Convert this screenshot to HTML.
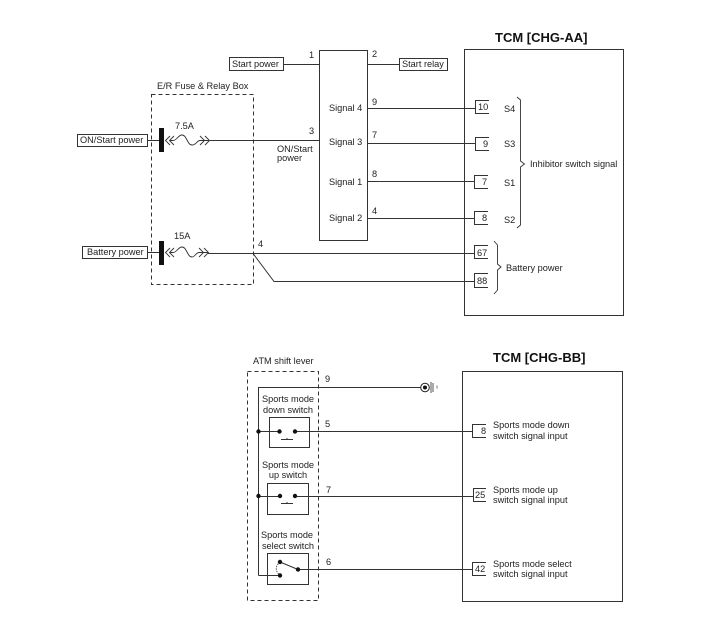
<!DOCTYPE html>
<html>
<head>
<meta charset="utf-8">
<style>
html,body{margin:0;padding:0;background:#fff;width:701px;height:629px;overflow:hidden}
svg{display:block}
text{font-family:"Liberation Sans",Arial,sans-serif;font-size:9.2px;fill:#222}
text.t{font-size:13px;font-weight:bold;fill:#111}
.l{fill:none;stroke:#333;stroke-width:1}
.d{fill:none;stroke:#333;stroke-width:1;stroke-dasharray:4 3}
.f{fill:none;stroke:#333;stroke-width:.9}
</style>
</head>
<body>
<svg width="701" height="629" viewBox="0 0 701 629" xmlns="http://www.w3.org/2000/svg">
<rect width="701" height="629" fill="#fff"/>

<!-- Top: boxes -->
<rect class="l" x="229.5" y="57.5" width="54" height="13"/>
<rect class="l" x="399.5" y="58.5" width="48" height="12"/>
<rect class="l" x="319.5" y="50.5" width="48" height="190"/>
<rect class="l" x="464.5" y="49.5" width="159" height="266"/>
<rect class="d" x="151.5" y="94.5" width="102" height="190"/>
<rect class="l" x="77.5" y="134.5" width="70" height="12"/>
<rect class="l" x="82.5" y="246.5" width="65" height="12"/>

<!-- Top: wires -->
<path class="l" d="M283 64.5H319M368 64.5H399"/>
<path class="l" d="M368 108.5H475M368 143.5H475M368 181.5H474M368 218.5H474"/>
<path class="l" d="M147 140.5H160M210 140.5H319"/>
<path class="l" d="M147 252.5H160M208 253.5H474M253 253.5L274 281.5H474"/>

<!-- Bus bars -->
<rect x="159" y="128" width="5" height="24" fill="#111"/>
<rect x="159" y="241" width="5" height="24" fill="#111"/>

<!-- Fuses -->
<g class="f">
<path d="M170 136L165.500 140.500L170 145M174 136L169.500 140.500L174 145M170 140.500H173C177 140.500 178 135 182 135C187 135 187 145 192 145C196 145 197 140.500 200 140.500H209M200 136L204.500 140.500L200 145M205 136L209.500 140.500L205 145"/>
<path d="M170 248L165.500 252.500L170 257M174 248L169.500 252.500L174 257M170 252.500H173C177 252.500 178 247 182 247C187 247 187 257 192 257C195 257 196 252.500 199 252.500H208M199 248L203.500 252.500L199 257M204 248L208.500 252.500L204 257"/>
</g>

<!-- Top connectors -->
<path class="l" d="M489 100.5H475.500V113.500H489M489 137.500H475.500V150.500H489M488 175.500H474.500V188.500H488M488 211.500H474.500V224.500H488M488 245.500H474.500V258.500H488M488 273.500H474.500V287.500H488"/>

<!-- Braces -->
<path class="f" d="M517 97L520.500 100V161L524.500 164L520.500 167V225L517 228"/>
<path class="f" d="M494 241L497.500 245V264L501 267L497.500 270V290L494 294"/>

<!-- Top text -->
<text x="232" y="67">Start power</text>
<text x="402" y="67">Start relay</text>
<text x="157" y="89">E/R Fuse &amp; Relay Box</text>
<text x="80" y="143">ON/Start power</text>
<text x="87" y="255">Battery power</text>
<text x="175" y="129">7.5A</text>
<text x="174" y="239">15A</text>
<text x="309" y="58">1</text>
<text x="372" y="57">2</text>
<text x="309" y="134">3</text>
<text x="258" y="247">4</text>
<text x="277" y="152">ON/Start</text>
<text x="277" y="161">power</text>
<text x="329" y="111">Signal 4</text>
<text x="329" y="145">Signal 3</text>
<text x="329" y="185">Signal 1</text>
<text x="329" y="221">Signal 2</text>
<text x="372" y="105">9</text>
<text x="372" y="138">7</text>
<text x="372" y="177">8</text>
<text x="372" y="214">4</text>
<text x="478" y="110">10</text>
<text x="483" y="147">9</text>
<text x="482" y="185">7</text>
<text x="482" y="221">8</text>
<text x="477" y="256">67</text>
<text x="477" y="284">88</text>
<text x="504" y="112">S4</text>
<text x="504" y="147">S3</text>
<text x="504" y="186">S1</text>
<text x="504" y="223">S2</text>
<text x="530" y="167">Inhibitor switch signal</text>
<text x="506" y="271">Battery power</text>
<text class="t" x="495" y="42">TCM [CHG-AA]</text>

<!-- Bottom: boxes -->
<rect class="d" x="247.5" y="371.5" width="71" height="229"/>
<rect class="l" x="462.5" y="371.5" width="160" height="230"/>
<rect class="l" x="269.5" y="417.5" width="40" height="30"/>
<rect class="l" x="267.5" y="483.5" width="41" height="31"/>
<rect class="l" x="267.5" y="553.500" width="41" height="31"/>

<!-- Bottom: wires -->
<path class="l" d="M258.500 575.500V387.500H421"/>
<path class="l" d="M258 431.500H280M295 431.500H472M258 496.500H280M295 496.500H473M258.500 575.500H280M298 569.500H472"/>
<path class="l" d="M280 562L298 569.500"/>
<path d="M280 562C275 566 275 571 280 575.500" fill="none" stroke="#333" stroke-width=".8" stroke-dasharray="1.500 1"/>
<path class="l" d="M281 439.500H293M287 438V439M281 503.500H293M287 502V503"/>

<!-- Dots -->
<g fill="#111">
<circle cx="258.500" cy="431.500" r="2.200"/>
<circle cx="279.500" cy="431.500" r="2.200"/>
<circle cx="295" cy="431.500" r="2.200"/>
<circle cx="258.500" cy="496" r="2.200"/>
<circle cx="280" cy="496" r="2.200"/>
<circle cx="295" cy="496" r="2.200"/>
<circle cx="280" cy="562" r="2.200"/>
<circle cx="298" cy="569.500" r="2.200"/>
<circle cx="280" cy="575.500" r="2.200"/>
</g>

<!-- Ground -->
<circle cx="425" cy="387.500" r="4.300" fill="#fff" stroke="#222" stroke-width="1"/>
<circle cx="425" cy="387.500" r="2" fill="#111"/>
<path d="M431 382V393M433 383V392" stroke="#555" stroke-width="1" fill="none"/>
<path d="M437 385.500V388.500" stroke="#777" stroke-width="1" fill="none"/>

<!-- Bottom connectors -->
<path class="l" d="M486 424.500H472.500V437.500H486M486 488.500H473.500V501.500H486M486 562.500H472.500V575.500H486"/>

<!-- Bottom text -->
<text x="253" y="364">ATM shift lever</text>
<text x="325" y="382">9</text>
<text x="325" y="427">5</text>
<text x="326" y="493">7</text>
<text x="326" y="565">6</text>
<text x="288" y="402" text-anchor="middle">Sports mode</text>
<text x="288" y="413" text-anchor="middle">down switch</text>
<text x="288" y="468" text-anchor="middle">Sports mode</text>
<text x="288" y="478" text-anchor="middle">up switch</text>
<text x="287" y="538" text-anchor="middle">Sports mode</text>
<text x="288" y="549" text-anchor="middle">select switch</text>
<text x="481" y="434">8</text>
<text x="475" y="498">25</text>
<text x="475" y="572">42</text>
<text x="493" y="428">Sports mode down</text>
<text x="493" y="439">switch signal input</text>
<text x="493" y="493">Sports mode up</text>
<text x="493" y="503">switch signal input</text>
<text x="493" y="567">Sports mode select</text>
<text x="493" y="577">switch signal input</text>
<text class="t" x="493" y="362">TCM [CHG-BB]</text>
</svg>
</body>
</html>
